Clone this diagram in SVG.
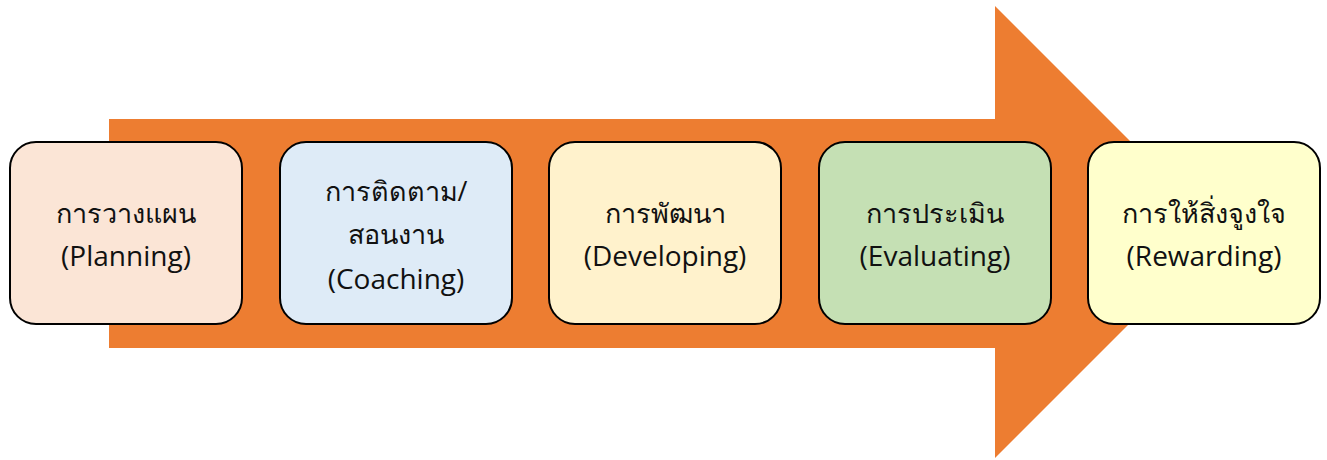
<svg xmlns="http://www.w3.org/2000/svg" width="1327" height="460" viewBox="0 0 1327 460">
  <style>
    .step { stroke: #000; stroke-width: 2; }
    .label { font-family: "Open Sans", "Noto Sans", "DejaVu Sans", sans-serif; font-size: 28px; fill: #111; text-anchor: middle; }
    .th { font-size: 27px; }
  </style>
  <rect width="1327" height="460" fill="#fff"/>
  <!-- big process arrow behind the steps -->
  <g id="connectors">
    <polygon points="109,119 995,119 995,6 1221,232 995,458 995,348 109,348" fill="#ED7D31"/>
  </g>
  <g id="planning">
    <rect class="step" x="10" y="142" width="232" height="182" rx="26" fill="#FBE5D6"/>
    <text class="label th" x="126" y="223">การวางแผน</text>
    <text class="label" x="126" y="266">(Planning)</text>
  </g>
  <g id="coaching">
    <rect class="step" x="280" y="142" width="232" height="182" rx="26" fill="#DEEBF7"/>
    <text class="label th" x="396" y="201">การติดตาม/</text>
    <text class="label th" x="396" y="244">สอนงาน</text>
    <text class="label" x="396" y="289">(Coaching)</text>
  </g>
  <g id="developing">
    <rect class="step" x="549" y="142" width="232" height="182" rx="26" fill="#FFF2CC"/>
    <text class="label th" x="665" y="223">การพัฒนา</text>
    <text class="label" x="665" y="266">(Developing)</text>
  </g>
  <g id="evaluating">
    <rect class="step" x="819" y="142" width="232" height="182" rx="26" fill="#C5E0B4"/>
    <text class="label th" x="935" y="223">การประเมิน</text>
    <text class="label" x="935" y="266">(Evaluating)</text>
  </g>
  <g id="rewarding">
    <rect class="step" x="1088" y="142" width="232" height="182" rx="26" fill="#FFFFCC"/>
    <text class="label th" x="1204" y="223">การให้สิ่งจูงใจ</text>
    <text class="label" x="1204" y="266">(Rewarding)</text>
  </g>
</svg>
